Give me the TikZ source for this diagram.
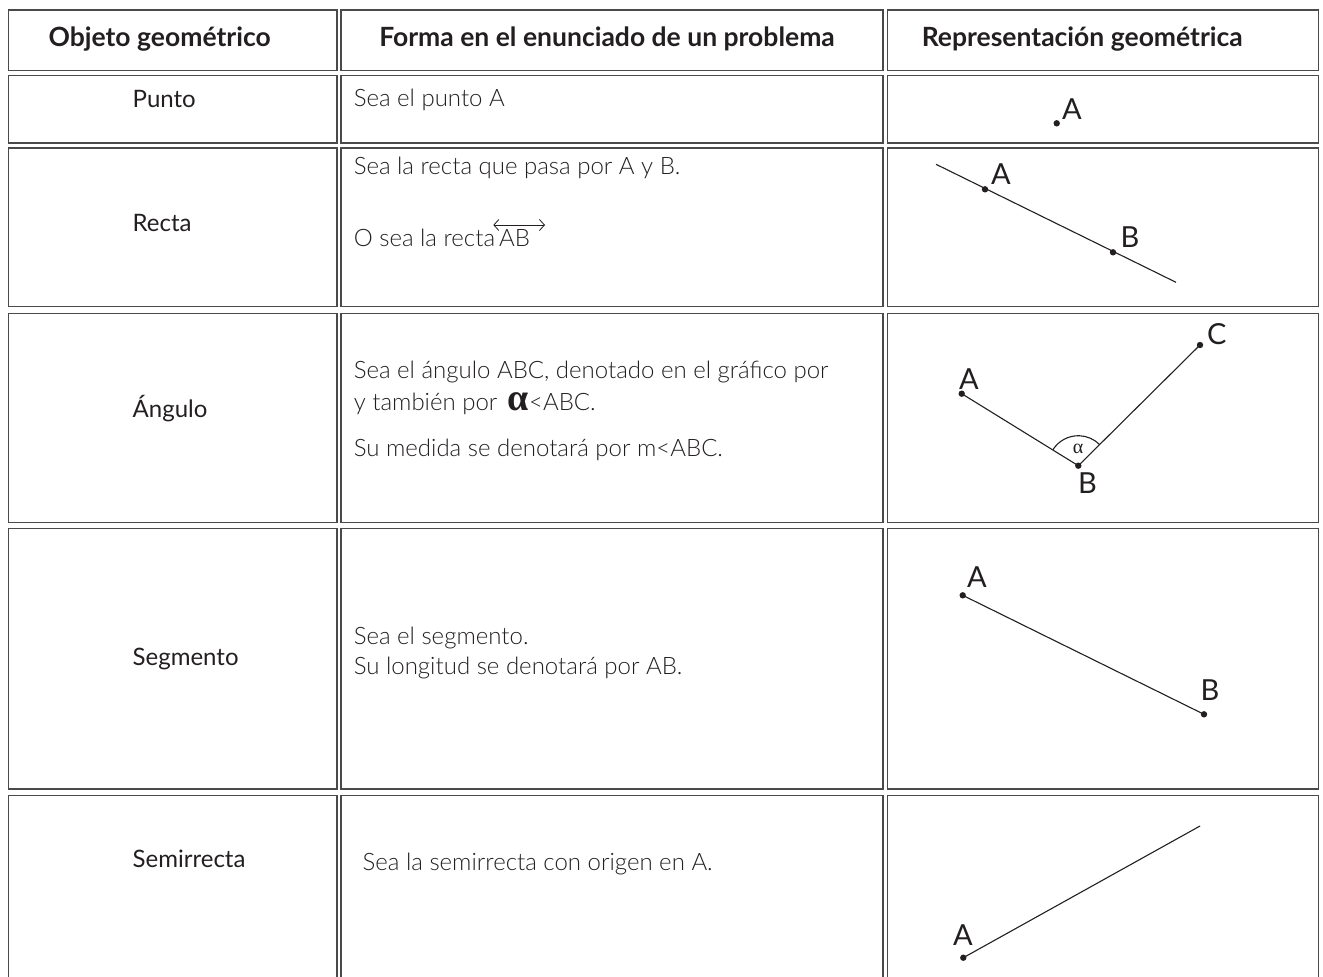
\documentclass[tikz,border=0pt]{standalone}
\usepackage{fontspec}
\usetikzlibrary{arrows.meta,calc}
\IfFontExistsTF{Lato Light}{\newfontfamily\bodyf{Lato Light}}{\newfontfamily\bodyf{Carlito}}
\newfontfamily\regf{Lato}
\newfontfamily\greekf{Liberation Serif}
\definecolor{ink}{HTML}{231F20}
\definecolor{rule}{HTML}{4A4A4A}
\tikzset{
  cell/.style={draw=rule, line width=1.4pt},
  head/.style={anchor=base, inner sep=0pt, text=ink, font=\regf\bfseries\fontsize{26.5}{30}\selectfont},
  rowlab/.style={anchor=base west, inner sep=0pt, text=ink, font=\regf\fontsize{24}{28}\selectfont},
  body/.style={anchor=base west, inner sep=0pt, text=ink, font=\bodyf\fontsize{24}{28}\selectfont},
  ptlab/.style={anchor=base west, inner sep=0pt, text=ink, font=\regf\fontsize{29}{32}\selectfont},
  geo/.style={draw=ink, line width=1.1pt},
  dotc/.style={fill=ink, draw=none},
}
\begin{document}
\begin{tikzpicture}[x=1pt, y=-1pt]
\useasboundingbox (0,0) rectangle (1323,977);
\clip (0,0) rectangle (1323,977);
% table cells
\foreach \ya/\yb in {10/70.2, 75.7/142.8, 148/306.3, 313.2/522.3, 528.7/788.8, 795.2/1000} {
  \draw[cell] (8.2,\ya) rectangle (336.8,\yb);
  \draw[cell] (341,\ya) rectangle (883,\yb);
  \draw[cell] (887.2,\ya) rectangle (1318.6,\yb);
}
% header
\node[head] (h1) at (159.7,46) {Objeto geométrico};
\node[head] (h2) at (607,46) {Forma en el enunciado de un problema};
\node[head] (h3) at (1082.3,46) {Representación geométrica};
% column 1
\node[rowlab] (l1) at (132.5,107.3) {Punto};
\node[rowlab] (l2) at (132.5,231) {Recta};
\node[rowlab] (l3) at (132.5,417) {Ángulo};
\node[rowlab] (l4) at (132.5,665) {Segmento};
\node[rowlab] (l5) at (132.5,867) {Semirrecta};
% column 2
\node[body] (t1) at (353.6,106) {Sea el punto A};
\node[body] (t2a) at (353.6,174.5) {Sea la recta que pasa por A y B.};
\node[body] (t2b) at (353.6,246) {O sea la recta\,AB};
\coordinate (arL) at (493.3,225);
\coordinate (arR) at (545,225);
\draw[ink, line width=0.8pt, {Straight Barb[length=5pt,width=11pt]}-{Straight Barb[length=5pt,width=11pt]}] (arL) -- (arR);
\node[body] (t3a) at (353.6,378) {Sea el ángulo ABC, denotado en el gráfico por};
\node[body] (t3b) at (353.6,410) {y también por \,{\greekf\bfseries\fontsize{38}{38}\selectfont α}<ABC.};
\node[body] (t3c) at (353.6,456.5) {Su medida se denotará por m<ABC.};
\node[body] (t4a) at (353.6,644.5) {Sea el segmento.};
\node[body] (t4b) at (353.6,674) {Su longitud se denotará por AB.};
\node[body] (t5) at (362.5,870) {Sea la semirrecta con origen en A.};
% column 3: punto
\coordinate (pA) at (1056.7,123.3);
\fill[dotc] (pA) circle (3.2pt);
\node[ptlab] (pAl) at (1062,119) {A};
% recta
\coordinate (rS) at (936,164.3);
\coordinate (rE) at (1176,282.3);
\coordinate (rA) at (985,189.3);
\coordinate (rB) at (1113,252.3);
\draw[geo] (rS) -- (rE);
\fill[dotc] (rA) circle (3.2pt);
\fill[dotc] (rB) circle (3.2pt);
\node[ptlab] (rAl) at (991,184.3) {A};
\node[ptlab] (rBl) at (1120.5,247.3) {B};
% angulo
\coordinate (aA) at (961.7,393.7);
\coordinate (aB) at (1078.3,465.7);
\coordinate (aC) at (1200,345);
\draw[geo] (aA) -- (aB) -- (aC);
\draw[geo] ($(aB)+(148.3:30pt)$) arc[start angle=148.3, end angle=44.8, radius=30pt];
\fill[dotc] (aA) circle (3.2pt);
\fill[dotc] (aB) circle (3.2pt);
\fill[dotc] (aC) circle (3.2pt);
\node[ptlab] (aAl) at (959,389.3) {A};
\node[ptlab] (aBl) at (1078,493.3) {B};
\node[ptlab] (aCl) at (1207,344.3) {C};
\node[inner sep=0pt, text=ink, font=\greekf\fontsize{20}{20}\selectfont] (alf) at (1078,449) {α};
% segmento
\coordinate (sA) at (962.7,595.3);
\coordinate (sB) at (1204,714.3);
\draw[geo] (sA) -- (sB);
\fill[dotc] (sA) circle (3.2pt);
\fill[dotc] (sB) circle (3.2pt);
\node[ptlab] (sAl) at (967,587.3) {A};
\node[ptlab] (sBl) at (1200.5,700.7) {B};
% semirrecta
\coordinate (mA) at (963.3,957.7);
\coordinate (mE) at (1200,826);
\draw[geo] (mA) -- (mE);
\fill[dotc] (mA) circle (3.2pt);
\node[ptlab] (mAl) at (953,945.7) {A};
\end{tikzpicture}
\end{document}
